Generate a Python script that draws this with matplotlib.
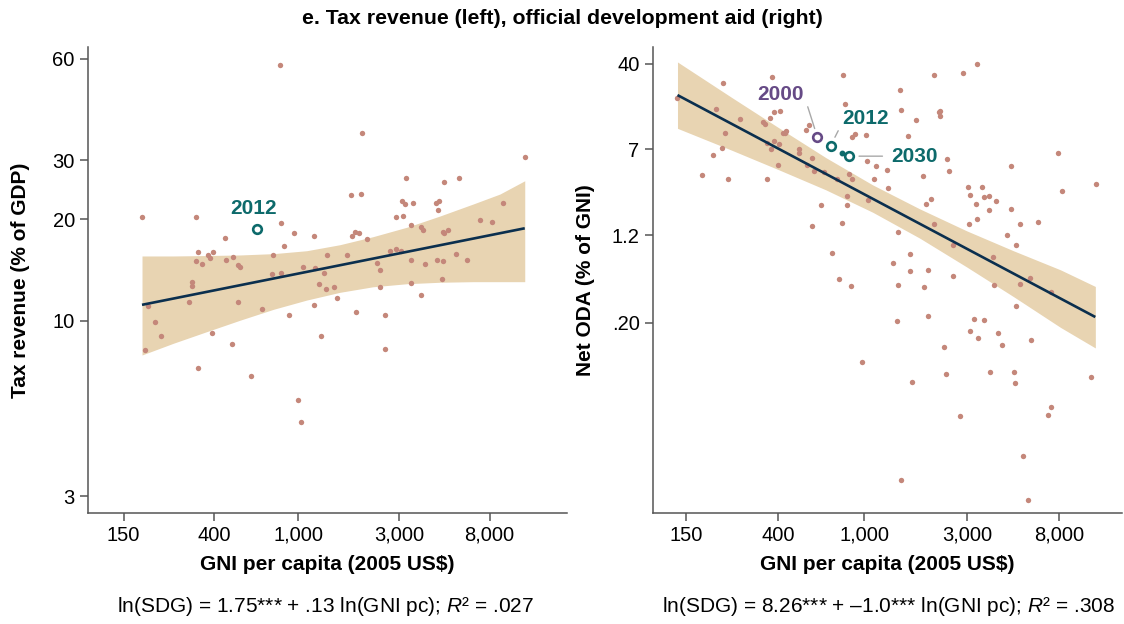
import numpy as np
import matplotlib

matplotlib.use("Agg")
import matplotlib.pyplot as plt

plt.rcParams["font.family"] = ["Liberation Sans", "DejaVu Sans"]
plt.rcParams["mathtext.fontset"] = "custom"
plt.rcParams["mathtext.rm"] = "Liberation Sans"
plt.rcParams["mathtext.it"] = "Liberation Sans:italic"

# Tax revenue panel: ln(GNI per capita) and ln(tax revenue, % of GDP)
tax_ln_gni = [
    6.71, 7.60, 9.37, 8.08, 8.65, 8.49, 7.48, 7.59, 8.04, 8.07, 8.16, 8.40, 8.44, 8.43,
    9.13, 7.97, 8.05, 5.21, 5.80, 6.72, 8.13, 8.88, 9.01, 8.24, 8.26, 8.48, 8.49, 8.54,
    6.86, 7.08, 7.49, 7.53, 7.57, 6.11, 7.66, 6.75, 5.82, 5.93, 5.98, 5.95, 6.20, 6.63,
    7.22, 7.44, 7.91, 7.97, 8.03, 5.80, 5.86, 6.12, 8.13, 8.29, 8.42, 8.48, 8.62, 8.74,
    6.25, 6.28, 6.96, 7.09, 7.76, 7.80, 6.62, 6.72, 7.19, 8.47, 5.75, 5.75, 7.13, 7.21,
    7.30, 7.80, 8.13, 8.24, 7.33, 5.72, 6.25, 5.28, 6.51, 7.08, 6.81, 7.54, 7.85, 5.35,
    5.42, 5.97, 7.16, 6.19, 7.85, 5.24, 5.82, 6.39, 6.91, 6.94,
]
tax_ln_rev = [
    4.05, 3.59, 3.42, 3.28, 3.28, 3.25, 3.16, 3.17, 3.12, 3.10, 3.11, 3.11, 3.12, 3.06,
    3.11, 3.01, 3.02, 3.01, 3.01, 2.97, 2.96, 2.99, 2.98, 2.94, 2.92, 2.91, 2.90, 2.92,
    2.90, 2.88, 2.88, 2.91, 2.90, 2.87, 2.86, 2.81, 2.77, 2.75, 2.77, 2.73, 2.74, 2.75,
    2.75, 2.75, 2.78, 2.79, 2.78, 2.71, 2.69, 2.72, 2.72, 2.69, 2.72, 2.71, 2.76, 2.72,
    2.68, 2.67, 2.67, 2.66, 2.70, 2.65, 2.62, 2.63, 2.63, 2.59, 2.57, 2.54, 2.55, 2.52,
    2.53, 2.53, 2.56, 2.48, 2.46, 2.43, 2.43, 2.40, 2.38, 2.41, 2.34, 2.36, 2.34, 2.29,
    2.20, 2.22, 2.20, 2.14, 2.11, 2.10, 1.98, 1.92, 1.76, 1.61,
]
tax_2012 = (6.46, 2.93)

# confidence band around the tax fit
tax_band_gni = [5.21, 5.55, 5.91, 6.28, 6.64, 7.00, 7.36, 7.72, 8.09, 8.45, 8.81, 9.10, 9.37]
tax_band_hi = [2.745, 2.745, 2.748, 2.752, 2.761, 2.781, 2.822, 2.877, 2.942, 3.019, 3.101, 3.169, 3.260]
tax_band_lo = [2.067, 2.147, 2.226, 2.306, 2.380, 2.443, 2.496, 2.534, 2.555, 2.565, 2.569, 2.569, 2.569]
tax_fit = (1.754, 0.126)

# ODA panel: ln(GNI per capita) and ln(net ODA, % of GNI)
oda_ln_gni = [
    4.91, 5.41, 5.33, 5.59, 5.43, 5.39, 5.30, 5.18, 5.46, 5.93, 6.68, 6.70, 7.29, 7.65,
    7.96, 8.11, 7.30, 7.46, 7.70, 7.72, 7.72, 5.95, 6.01, 5.90, 5.83, 5.85, 6.08, 6.04,
    6.07, 6.32, 6.29, 5.95, 5.87, 6.00, 5.92, 6.21, 6.21, 5.99, 5.87, 6.35, 6.30, 6.37,
    6.48, 6.62, 6.75, 6.78, 6.78, 6.81, 6.93, 7.37, 6.94, 7.03, 7.15, 7.01, 7.16, 7.79,
    7.81, 7.53, 6.73, 6.73, 6.95, 6.45, 6.35, 6.67, 7.27, 7.57, 7.62, 7.65, 8.01, 8.16,
    8.04, 8.18, 8.24, 8.31, 8.10, 8.24, 8.47, 8.47, 8.97, 9.02, 9.38, 8.02, 8.11, 8.57,
    8.76, 8.43, 8.52, 8.28, 7.85, 6.57, 7.40, 7.21, 7.40, 7.59, 7.85, 6.64, 8.67, 6.77,
    7.27, 7.54, 8.29, 8.57, 8.90, 8.52, 7.26, 7.59, 8.08, 8.18, 8.04, 8.12, 8.33, 8.38,
    8.68, 7.76, 6.89, 7.78, 8.25, 8.50, 7.42, 8.51, 9.32, 7.93, 8.90, 8.87, 8.60, 7.30,
    8.65,
]
oda_ln_aid = [
    3.00, 3.30, 2.76, 2.56, 2.28, 1.97, 1.83, 1.42, 1.33, 3.43, 3.47, 2.87, 3.16, 3.46,
    3.51, 3.68, 2.75, 2.55, 2.71, 2.72, 2.63, 2.70, 2.72, 2.59, 2.50, 2.46, 2.32, 2.28,
    2.28, 2.43, 2.33, 2.12, 2.08, 2.05, 1.94, 1.95, 1.87, 1.61, 1.33, 1.76, 1.62, 1.49,
    1.48, 1.33, 1.44, 1.33, 2.20, 2.26, 2.23, 2.21, 1.71, 1.59, 1.52, 1.33, 1.15, 1.75,
    1.49, 1.39, 0.98, 0.79, 0.91, 0.79, 0.36, 0.44, 0.24, 0.82, 0.92, 0.42, 1.16, 1.16,
    1.01, 0.96, 0.98, 0.88, 0.82, 0.70, 0.71, 1.59, 1.87, 1.08, 1.22, 0.41, 0.51, 0.40,
    0.45, 0.18, -0.03, -0.26, -0.03, -0.19, -0.21, -0.39, -0.55, -0.53, -0.66, -0.72, -0.70, -0.86,
    -0.83, -0.89, -0.83, -0.81, -0.98, -1.28, -1.58, -1.48, -1.54, -1.56, -1.78, -1.93, -1.82, -2.07,
    -1.96, -2.11, -2.42, -2.66, -2.62, -2.63, -2.83, -2.85, -2.73, -3.52, -3.34, -3.51, -4.35, -4.84,
    -5.25,
]
oda_2000 = (6.41, 2.19)
oda_2012 = (6.55, 2.01)
oda_2030 = (6.75, 1.80)
oda_step = (6.67, 1.87)

oda_band_gni = [4.92, 5.5, 6.0, 6.5, 7.0, 7.5, 8.0, 8.5, 9.0, 9.37]
oda_band_hi = [3.73, 3.00, 2.38, 1.77, 1.21, 0.72, 0.27, -0.14, -0.53, -0.87]
oda_band_lo = [2.37, 1.92, 1.52, 1.11, 0.65, 0.12, -0.47, -1.08, -1.71, -2.13]
oda_fit = (8.08, -1.022)

gni_ticks = [150, 400, 1000, 3000, 8000]
gni_labels = ["150", "400", "1,000", "3,000", "8,000"]
tax_ticks = [3, 10, 20, 30, 60]
tax_labels = ["3", "10", "20", "30", "60"]
oda_ticks = [0.2, 1.2, 7, 40]
oda_labels = [".20", "1.2", "7", "40"]

DOT = "#c4877a"
BAND = "#e8d4b2"
FIT = "#0b2f4e"
TEAL = "#0d6a6b"
PURPLE = "#664a86"
AXIS = "#555555"
LEADER = "#a8a8a8"

W, H = 1124, 624
fig = plt.figure(figsize=(W / 100, H / 100), dpi=100)
ax_l = fig.add_axes([88 / W, 1 - 512.7 / H, 478.7 / W, 465.7 / H])
ax_r = fig.add_axes([652.7 / W, 1 - 512.7 / H, 469.3 / W, 465.7 / H])


def draw_panel(ax, ln_x, ln_y, band_x, band_lo, band_hi, fit, xlim, ylim, yticks, ylabels, ylabel):
    bx = np.array(band_x)
    ax.fill_between(np.exp(bx), np.exp(band_lo), np.exp(band_hi), color=BAND, lw=0, zorder=1)
    ax.scatter(np.exp(ln_x), np.exp(ln_y), s=15, color=DOT, linewidths=0, zorder=2)
    ends = np.array([bx[0], bx[-1]])
    ax.plot(np.exp(ends), np.exp(fit[0] + fit[1] * ends), color=FIT, lw=1.9, zorder=3,
            solid_capstyle="butt")

    ax.set_xscale("log")
    ax.set_yscale("log")
    ax.set_xlim(np.exp(xlim))
    ax.set_ylim(np.exp(ylim))
    ax.set_xticks(gni_ticks, labels=gni_labels)
    ax.set_yticks(yticks, labels=ylabels)
    ax.minorticks_off()
    for side in ("top", "right"):
        ax.spines[side].set_visible(False)
    for side in ("left", "bottom"):
        ax.spines[side].set_color(AXIS)
        ax.spines[side].set_linewidth(1.1)
    ax.tick_params(length=5.5, width=1.1, color=AXIS, labelsize=14.5, pad=4)

    ax.set_xlabel("GNI per capita (2005 US$)", fontsize=15, fontweight="bold")
    ax.xaxis.set_label_coords(0.5, -0.112)
    ax.xaxis.label.set_va("center")
    ax.set_ylabel(ylabel, fontsize=15, fontweight="bold")
    ax.yaxis.label.set_va("center")


draw_panel(ax_l, tax_ln_gni, tax_ln_rev, tax_band_gni, tax_band_lo, tax_band_hi, tax_fit,
           (4.623, 9.826), (0.987, 4.176), tax_ticks, tax_labels, "Tax revenue (% of GDP)")
ax_l.yaxis.set_label_coords(-0.142, 0.5)

draw_panel(ax_r, oda_ln_gni, oda_ln_aid, oda_band_gni, oda_band_lo, oda_band_hi, oda_fit,
           (4.656, 9.654), (-5.506, 4.037), oda_ticks, oda_labels, "Net ODA (% of GNI)")
ax_r.yaxis.set_label_coords(-0.144, 0.5)

ring = dict(marker="o", ms=6.2, mfc="none", mew=1.9, ls="none", zorder=5)
label_kw = dict(textcoords="offset points", ha="center", va="center", fontsize=15,
                fontweight="bold")

# tax revenue marker
ax_l.plot(np.exp(tax_2012[0]), np.exp(tax_2012[1]), mec=TEAL, **ring)
ax_l.annotate("2012", xy=np.exp(tax_2012), xytext=(-2.4, 15), color=TEAL, **label_kw)

# ODA path 2000 -> 2012 -> 2030
ax_r.plot(np.exp(oda_2000[0]), np.exp(oda_2000[1]), mec=PURPLE, **ring)
ax_r.plot(np.exp(oda_2012[0]), np.exp(oda_2012[1]), mec=TEAL, **ring)
ax_r.plot(np.exp(oda_2030[0]), np.exp(oda_2030[1]), mec=TEAL, **ring)
ax_r.plot(np.exp(oda_step[0]), np.exp(oda_step[1]), "o", ms=3.2, color=TEAL, zorder=5)

ax_r.annotate("2000", xy=np.exp(oda_2000), xytext=(-26.6, 31), color=PURPLE,
              arrowprops=dict(arrowstyle="-", color=LEADER, lw=1, relpos=(1.0, 0.5),
                              shrinkA=3, shrinkB=6.5), **label_kw)
ax_r.annotate("2012", xy=np.exp(oda_2012), xytext=(25.2, 19.4), color=TEAL,
              arrowprops=dict(arrowstyle="-", color=LEADER, lw=1, relpos=(0.0, 0.3),
                              shrinkA=2, shrinkB=7), **label_kw)
ax_r.annotate("2030", xy=np.exp(oda_2030), xytext=(46.6, 0), color=TEAL,
              arrowprops=dict(arrowstyle="-", color=LEADER, lw=1, relpos=(0.0, 0.5),
                              shrinkA=4, shrinkB=7), **label_kw)

fig.text(0.5, 1 - 18 / H, "e. Tax revenue (left), official development aid (right)",
         ha="center", va="center", fontsize=15.3, fontweight="bold")
fig.text(325 / W, 1 - 606 / H, "ln(SDG) = 1.75*** + .13 ln(GNI pc); $R$\u00b2 = .027",
         ha="center", va="center", fontsize=15)
fig.text(888 / W, 1 - 606 / H, "ln(SDG) = 8.26*** + \u20131.0*** ln(GNI pc); $R$\u00b2 = .308",
         ha="center", va="center", fontsize=15)

fig.savefig("out.png", dpi=100)
